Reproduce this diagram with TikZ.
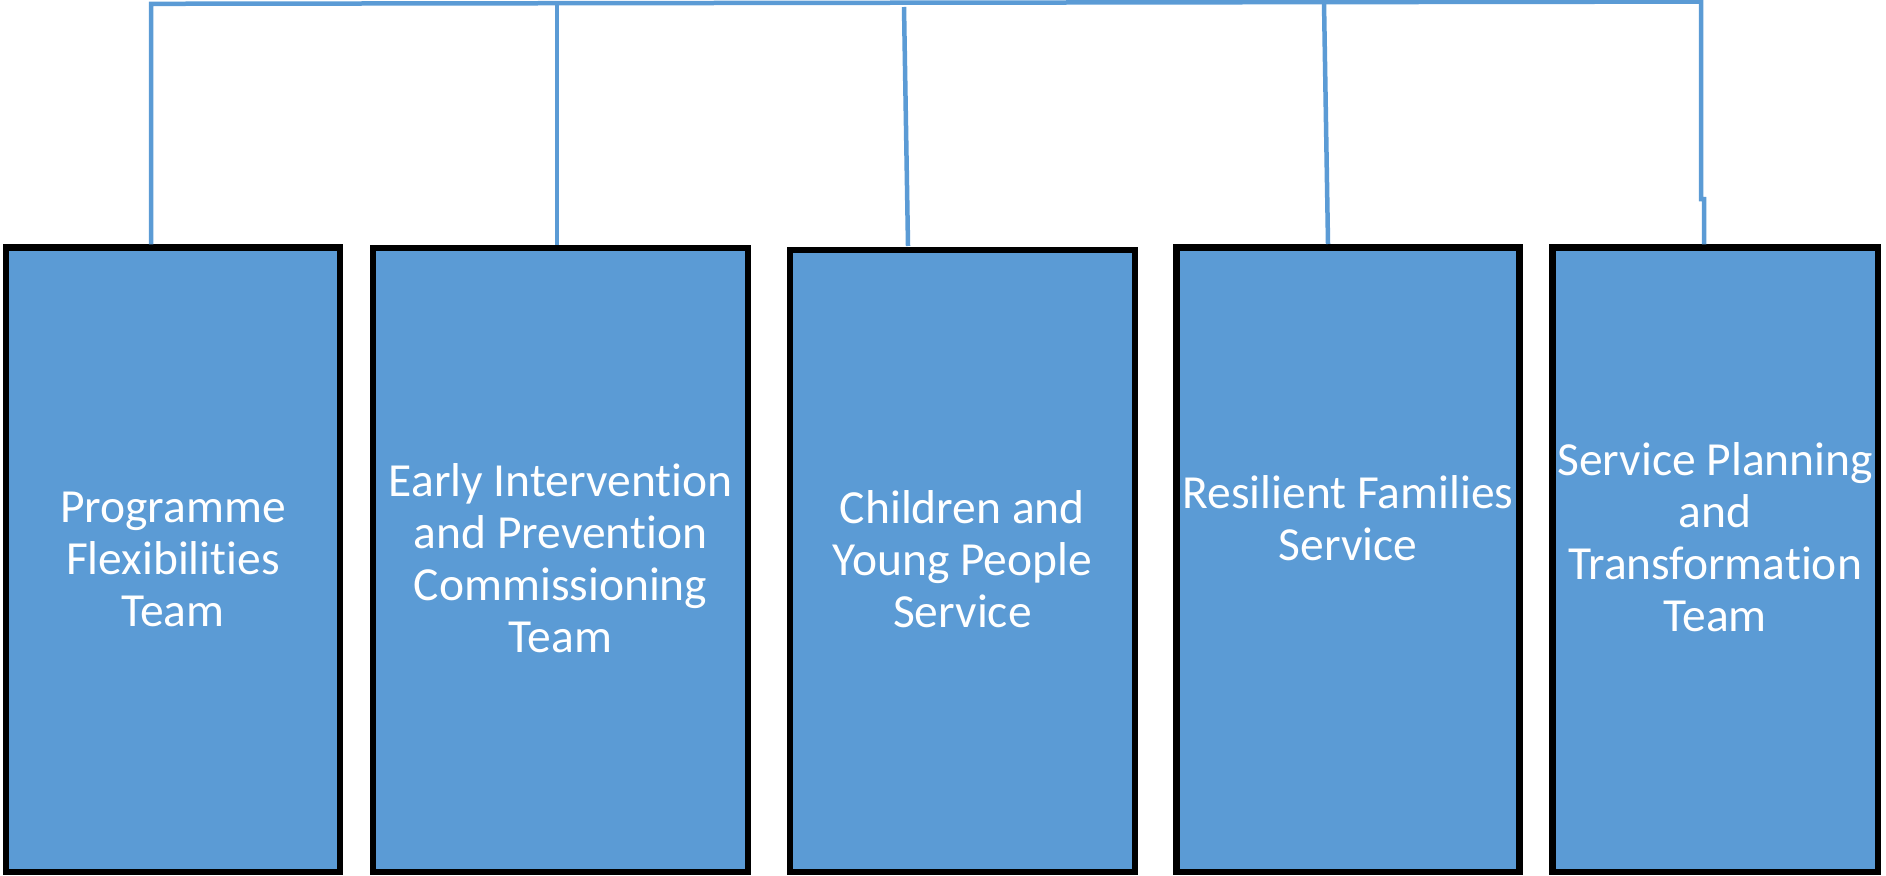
\documentclass[tikz,border=0pt]{standalone}
\usepackage{fontspec}
\setmainfont{Carlito}[Ligatures=NoCommon]
\definecolor{teamblue}{HTML}{5B9BD5}
\begin{document}
\begin{tikzpicture}[x=1pt,y=-1pt,
    team/.style={draw=black, line width=6.5pt, fill=teamblue, inner sep=0pt},
    teamtxt/.style={text=white, align=center, inner sep=0pt,
        font=\fontsize{47.5}{52}\selectfont},
    link/.style={draw=teamblue, line width=4.5pt}]
    \useasboundingbox (0,0) rectangle (1886,875);

    \node[team, minimum width=334.3pt, minimum height=624.5pt] (b1) at (172.9,559.75) {};
    \node[team, minimum width=374.8pt, minimum height=624pt] (b2) at (560.6,560) {};
    \node[team, minimum width=344.8pt, minimum height=622pt] (b3) at (962.4,561) {};
    \node[team, minimum width=343pt, minimum height=624.5pt] (b4) at (1348,559.75) {};
    \node[team, minimum width=325.3pt, minimum height=624.5pt] (b5) at (1715.1,559.75) {};

    \node[teamtxt] (t1) at (172.9,559) {Programme\\Flexibilities\\Team};
    \node[teamtxt] (t2) at (560.6,558) {Early Intervention\\and Prevention\\Commissioning\\Team};
    \node[teamtxt] (t3) at (962.4,559) {Children and\\Young People\\Service};
    \node[teamtxt] (t4) at (1348,518) {Resilient Families\\Service};
    \node[teamtxt] (t5) at (1715.1,537) {Service Planning\\and\\Transformation\\Team};

    \coordinate (j1) at (151,3.8);
    \coordinate (j2) at (557,3.4);
    \coordinate (j3) at (904,7);
    \coordinate (j4) at (1324,2.4);
    \coordinate (j5) at (1701,1.6);
    \coordinate (k5) at (1701,199);

    \draw[link] (j1 |- b1.north) -- (j1) -- (j5) -- (k5) -- ++(3,0) -- (b5.north -| 1704,0);
    \draw[link] (j2) -- (j2 |- b2.north);
    \draw[link] (j3) -- (908,246);
    \draw[link] (j4) -- (1328,244);

\end{tikzpicture}
\end{document}
